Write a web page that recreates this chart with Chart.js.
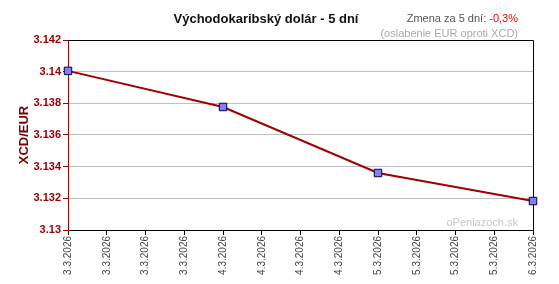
<!DOCTYPE html>
<html>
<head>
<meta charset="utf-8">
<script src="https://cdn.jsdelivr.net/npm/chart.js@4/dist/chart.umd.min.js"></script>
<style>
  html, body { margin: 0; padding: 0; background: #fff; }
  #wrap { width: 559px; height: 284px; position: relative; }
</style>
</head>
<body>
<div id="wrap"><canvas id="chart-xcd"></canvas></div>
<script>
// tick labels along the bottom (13 slots, data only on each new day)
const dates = [
  "3.3.2026", "3.3.2026", "3.3.2026", "3.3.2026",
  "4.3.2026", "4.3.2026", "4.3.2026", "4.3.2026",
  "5.3.2026", "5.3.2026", "5.3.2026", "5.3.2026",
  "6.3.2026",
];
const rates = [
  3.14005, null, null, null,
  3.13777, null, null, null,
  3.13360, null, null, null,
  3.13183,
];
const yMin = 3.13;
const yMax = 3.142;
const yStep = 0.002;

const title = "Východokaribský dolár - 5 dní";
const changeLabel = "Zmena za 5 dní: ";
const changeValue = "-0,3%";
const changeNote = "(oslabenie EUR oproti XCD)";
const axisTitle = "XCD/EUR";
const watermark = "oPeniazoch.sk";

const darkRed = "#a00000";
const font = "Arial, 'Liberation Sans', sans-serif";

const textPlugin = {
  id: "texts",
  beforeDatasetsDraw(chart) {
    const { ctx, chartArea: a } = chart;
    ctx.save();
    ctx.strokeStyle = "#000";
    ctx.lineWidth = 1;
    ctx.beginPath();
    ctx.moveTo(a.left, a.top + 0.5);
    ctx.lineTo(a.right + 0.5, a.top + 0.5);
    ctx.lineTo(a.right + 0.5, a.bottom);
    ctx.stroke();

    ctx.fillStyle = "#c8c8c8";
    ctx.font = "11px " + font;
    ctx.textAlign = "right";
    ctx.textBaseline = "alphabetic";
    ctx.fillText(watermark, 518, 226);
    ctx.restore();
  },
  afterDraw(chart) {
    const { ctx } = chart;
    ctx.save();
    ctx.textBaseline = "alphabetic";

    ctx.font = "bold 13px " + font;
    ctx.fillStyle = "#111";
    ctx.textAlign = "center";
    ctx.fillText(title, 266, 23);

    ctx.font = "11px " + font;
    ctx.textAlign = "left";
    const w1 = ctx.measureText(changeLabel).width;
    const w2 = ctx.measureText(changeValue).width;
    const x0 = 518 - w1 - w2;
    ctx.fillStyle = "#555";
    ctx.fillText(changeLabel, x0, 22);
    ctx.fillStyle = "#ff0000";
    ctx.fillText(changeValue, x0 + w1, 22);

    ctx.fillStyle = "#aaa";
    ctx.textAlign = "right";
    ctx.fillText(changeNote, 518, 37);

    ctx.translate(28, 135);
    ctx.rotate(-Math.PI / 2);
    ctx.font = "bold 13px " + font;
    ctx.fillStyle = "#7a0000";
    ctx.textAlign = "center";
    ctx.fillText(axisTitle, 0, 0);
    ctx.restore();
  },
};

new Chart(document.getElementById("chart-xcd"), {
  type: "line",
  data: {
    labels: dates,
    datasets: [
      {
        data: rates,
        spanGaps: true,
        borderColor: darkRed,
        borderWidth: 2,
        tension: 0,
        pointStyle: "rect",
        pointRadius: 5.3,
        pointBackgroundColor: "#8080f0",
        pointBorderColor: "#000050",
        pointBorderWidth: 1,
        clip: false,
      },
    ],
  },
  options: {
    responsive: true,
    maintainAspectRatio: false,
    animation: false,
    layout: { padding: { top: 40, right: 26, left: 0, bottom: 0 } },
    plugins: { legend: { display: false }, tooltip: { enabled: false } },
    scales: {
      x: {
        offset: false,
        afterFit: (s) => { s.height = 54; },
        grid: { drawOnChartArea: false, drawTicks: true, tickLength: 5, tickColor: "#000" },
        border: { color: "#000", width: 1 },
        ticks: {
          autoSkip: false,
          minRotation: 90,
          maxRotation: 90,
          padding: 1,
          color: "#444",
          font: { family: font, size: 10 },
        },
      },
      y: {
        min: yMin,
        max: yMax,
        afterFit: (s) => { s.width = 68; },
        grid: { color: "#c0c0c0", tickColor: darkRed, tickLength: 5 },
        border: { color: darkRed, width: 1 },
        ticks: {
          stepSize: yStep,
          padding: 2,
          color: darkRed,
          font: { family: font, size: 11, weight: "bold" },
          callback: (v) => String(+v.toFixed(3)),
        },
      },
    },
  },
  plugins: [textPlugin],
});
</script>
</body>
</html>
